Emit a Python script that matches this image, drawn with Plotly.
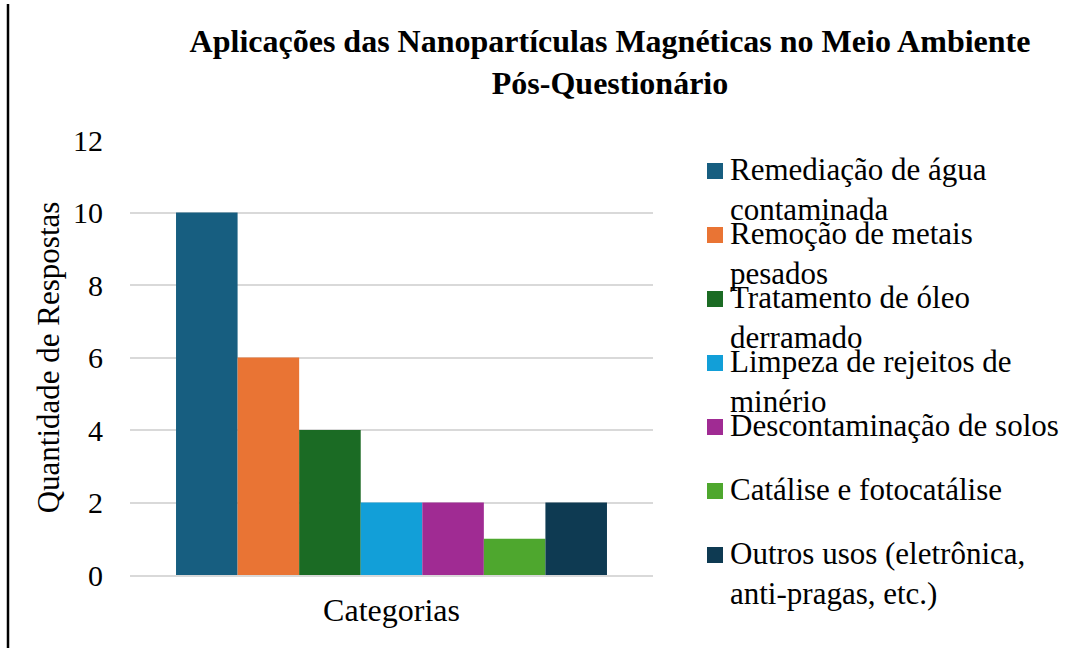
import plotly.graph_objects as go

# dados
categoria = ["Categorias"]
aplicacoes = [
    "Remediação de água<br>contaminada",
    "Remoção de metais<br>pesados",
    "Tratamento de óleo<br>derramado",
    "Limpeza de rejeitos de<br>minério",
    "Descontaminação de solos",
    "Catálise e fotocatálise",
    "Outros usos (eletrônica,<br>anti-pragas, etc.)",
]
respostas = [10, 6, 4, 2, 2, 1, 2]
cores = ["#175e80", "#e97434", "#1b6b24", "#129fd8", "#a02b93", "#4ea72e", "#0e3a52"]

FONTE = "Liberation Serif, Times New Roman, serif"

# área do gráfico em pixels (para converter posições da legenda)
L, R, T, B = 130, 653, 140, 575
W, H = 1086, 648


def px_x(px):
    return (px - L) / (R - L)


def px_y(py):
    return (B - py) / (B - T)


fig = go.Figure()
for nome, v, c in zip(aplicacoes, respostas, cores):
    rotulo = nome.replace("<br>", " ")
    fig.add_bar(x=categoria, y=[v], name=rotulo, marker_color=c, marker_line_width=0,
                hovertemplate="%{y}<extra>" + rotulo + "</extra>")

fig.update_layout(
    width=W, height=H,
    paper_bgcolor="white", plot_bgcolor="white",
    font=dict(family=FONTE, size=30, color="black"),
    margin=dict(l=L, r=W - R, t=T, b=H - B, autoexpand=False),
    barmode="group", bargap=0.176, bargroupgap=0,
    showlegend=False,
    title=dict(
        text="<b>Aplicações das Nanopartículas Magnéticas no Meio Ambiente<br>Pós-Questionário</b>",
        x=610 / W, xanchor="center", xref="container",
        y=1 - 52 / H, yanchor="top", yref="container",
        font=dict(family=FONTE, size=32, color="black"),
    ),
)
fig.update_yaxes(
    range=[0, 12], dtick=2, showgrid=True, gridcolor="#d9d9d9", gridwidth=1.5,
    zeroline=False, showline=False, ticks="", ticklabelstandoff=26, automargin=False,
    tickfont=dict(size=30),
    title=dict(text="Quantidade de Respostas", standoff=4, font=dict(size=31)),
)
fig.update_xaxes(
    showgrid=False, showline=True, linecolor="#d9d9d9", linewidth=1.5, ticks="",
    ticklabelstandoff=6, automargin=False, tickfont=dict(size=32),
)

# legenda desenhada à direita (entradas com espaçamento fixo, como no original)
for i, (nome, c) in enumerate(zip(aplicacoes, cores)):
    cy = 171 + 64 * i
    fig.add_shape(type="rect", xref="paper", yref="paper",
                  x0=px_x(707), x1=px_x(723), y0=px_y(cy + 8), y1=px_y(cy - 8),
                  fillcolor=c, line_width=0)
    fig.add_annotation(xref="paper", yref="paper", x=px_x(728), y=px_y(cy - 21),
                       xanchor="left", yanchor="top", align="left", showarrow=False,
                       text=nome, font=dict(family=FONTE, size=31, color="black"))

# linha vertical à esquerda da imagem
fig.add_shape(type="line", xref="paper", yref="paper",
              x0=px_x(8), x1=px_x(8), y0=px_y(H + 2), y1=px_y(4),
              line=dict(color="black", width=2.5))

fig.write_html("out.html", config={"displayModeBar": False},
               post_script="document.body.style.margin = '0';")
